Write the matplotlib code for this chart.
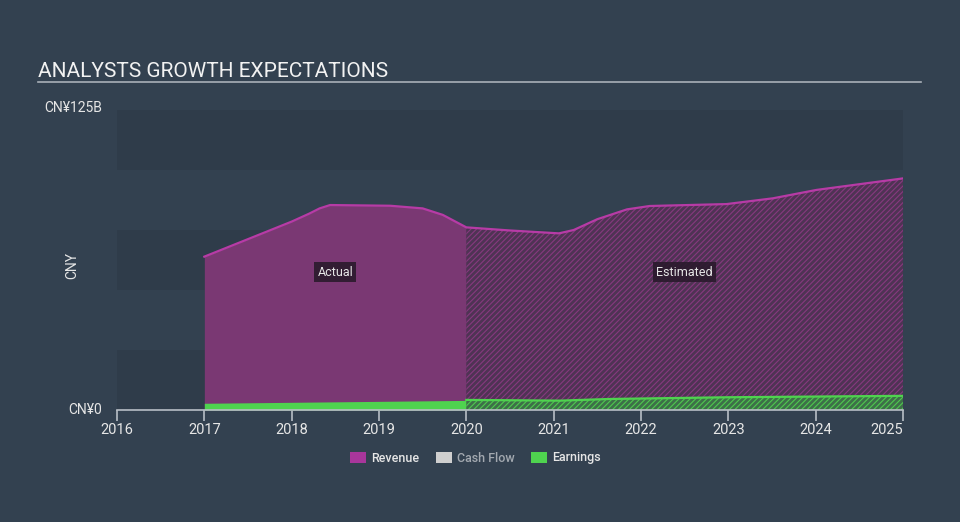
import matplotlib
matplotlib.use("Agg")
import matplotlib.pyplot as plt
from matplotlib.patches import Patch
from matplotlib.lines import Line2D

plt.rcParams['font.family'] = ['Roboto', 'DejaVu Sans']
plt.rcParams['hatch.linewidth'] = 0.8

# revenue (CNY billions), actual part then estimated part
rev_act_years = [2017.0, 2017.5, 2018.0, 2018.2, 2018.32, 2018.44, 2019.13, 2019.5, 2019.73, 2020.0]
rev_act = [63.9, 71.2, 78.5, 81.8, 84.0, 85.4, 85.1, 84.0, 81.3, 76.1]
rev_est_years = [2020.0, 2020.5, 2021.06, 2021.23, 2021.5, 2021.84, 2022.1, 2022.98, 2023.51, 2024.01, 2025.0]
rev_est = [76.1, 74.8, 73.6, 75.0, 79.5, 83.6, 85.0, 85.8, 88.2, 91.7, 96.5]

# earnings (CNY billions)
earn_act_years = [2017.0, 2020.0]
earn_act = [2.8, 4.0]
earn_est_years = [2020.0, 2021.07, 2021.65, 2022.98, 2025.0]
earn_est = [4.2, 3.9, 4.6, 5.3, 5.9]

year_ticks = [2016, 2017, 2018, 2019, 2020, 2021, 2022, 2023, 2024, 2025]
legend_labels = ['Revenue', 'Cash Flow', 'Earnings']

bg = '#334150'
band = '#2f3c4a'
txt = '#e6e6e6'
rev_line = '#b73ba6'
rev_fill = '#7a3873'
earn_col = '#4fd34f'

fig = plt.figure(figsize=(9.6, 5.22), dpi=100, facecolor=bg)
ax = fig.add_axes([117 / 960, 112 / 522, 786 / 960, 300 / 522])
ax.set_facecolor(bg)

for lo in (0, 50, 100):
    ax.axhspan(lo, lo + 25, color=band, lw=0, zorder=0)

# revenue
ax.fill_between(rev_act_years, 0, rev_act, color=rev_fill, lw=0, zorder=2)
ax.fill_between(rev_est_years, 0, rev_est, facecolor='#4f3354', edgecolor='#87397f',
                hatch='//////', lw=0, zorder=2)
ax.plot(rev_act_years + rev_est_years[1:], rev_act + rev_est[1:], color=rev_line, lw=1.6, zorder=4)

# earnings
ax.fill_between(earn_act_years, 0, earn_act, color=earn_col, lw=0, zorder=3)
ax.fill_between(earn_est_years, 0, earn_est, facecolor='#3d7048', edgecolor='#4fc94f',
                hatch='//////', lw=0, zorder=3)
ax.plot(earn_est_years, earn_est, color=earn_col, lw=1.6, zorder=4)

ax.set_xlim(2016, 2025)
ax.set_ylim(0, 125)
for s in ('top', 'right', 'left'):
    ax.spines[s].set_visible(False)
ax.spines['bottom'].set_color('#b8bec6')
ax.spines['bottom'].set_linewidth(1.2)
ax.spines['bottom'].set_zorder(5)
ax.set_yticks([])
ax.set_xticks(year_ticks)
ax.set_xticklabels([str(y) for y in year_ticks])
ax.tick_params(axis='x', colors='#b8bec6', labelcolor=txt, labelsize=10.5, length=8, width=1.2, pad=1)
ax.get_xticklabels()[-1].set_horizontalalignment('right')
ax.get_xticklabels()[-1].set_x(2025.2)

ax.text(-0.019, 1.007, 'CN¥125B', transform=ax.transAxes, ha='right', va='center', color=txt, fontsize=10)
ax.text(-0.019, 0.0, 'CN¥0', transform=ax.transAxes, ha='right', va='center', color=txt, fontsize=10)
ax.text(-0.057, 0.483, 'CNY', transform=ax.transAxes, ha='center', va='center', rotation=90, color=txt, fontsize=10)

box = dict(boxstyle='square,pad=0.25', facecolor='#2a1a2c', edgecolor='none', alpha=0.9)
ax.text(2018.5, 57.5, 'Actual', ha='center', va='center', color=txt, fontsize=9, bbox=box, zorder=6)
ax.text(2022.5, 57.5, 'Estimated', ha='center', va='center', color=txt, fontsize=9, bbox=box, zorder=6)

fig.text(38 / 960, 1 - 77 / 522, 'ANALYSTS GROWTH EXPECTATIONS', color='#f2f2f2', fontsize=15, va='baseline')
fig.add_artist(Line2D([38 / 960, 921 / 960], [1 - 82 / 522] * 2, color='#a9b0b8', lw=1.2))

handles = [Patch(facecolor='#a8369b', edgecolor='none'),
           Patch(facecolor='#cfcfcf', edgecolor='none'),
           Patch(facecolor=earn_col, edgecolor='none')]
leg = fig.legend(handles, legend_labels, loc='center', bbox_to_anchor=(0.495, 1 - 458 / 522), ncol=3,
                 frameon=False, prop={'size': 9, 'weight': 'medium'}, handlelength=1.3, handleheight=1.0,
                 columnspacing=1.3, handletextpad=0.4)
for t, c in zip(leg.get_texts(), [txt, '#a3a9b0', txt]):
    t.set_color(c)

fig.savefig('out.png', dpi=100, facecolor=bg)
